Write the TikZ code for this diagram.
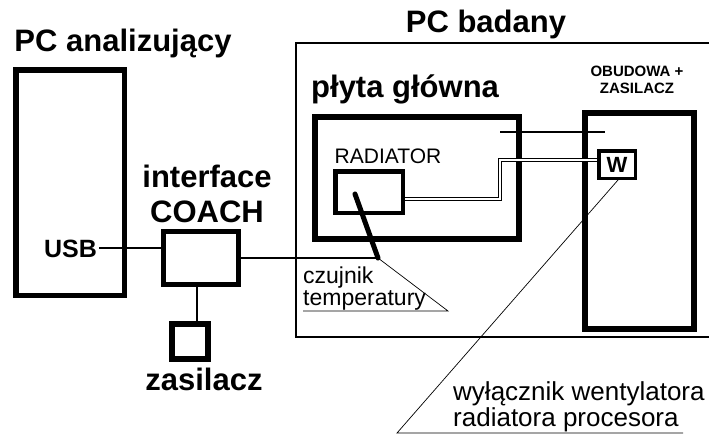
\documentclass[tikz,border=0pt]{standalone}
\usepackage{fontspec}
\setmainfont{Liberation Sans}
\usetikzlibrary{calc}

\begin{document}
\begin{tikzpicture}[x=1pt, y=-1pt,
    thickbox/.style={draw, line width=5.5pt, inner sep=0pt},
    wire/.style={line width=1.8pt},
    leader/.style={line width=0.7pt},
    biglabel/.style={font=\fontsize{31}{34}\selectfont\bfseries, inner sep=0pt, anchor=base},
    smalllabel/.style={inner sep=0pt, anchor=base west}]
  \useasboundingbox (0,0) rectangle (709,437);
  % --- PC analizujacy ---
  \node[biglabel] (pcA) at (123,51) {PC analizujący};
  \node[thickbox, minimum width=108.5, minimum height=225.5] (pc) at (70,182.5) {};
  \node[inner sep=0pt, anchor=base, font=\fontsize{25}{28}\selectfont\bfseries] (usb) at (70.5,257) {USB};
  % --- interface COACH ---
  \node[biglabel] (coachA) at (207,187) {interface};
  \node[biglabel] (coachB) at (207,222) {COACH};
  \node[thickbox, line width=5pt, minimum width=75, minimum height=53] (coach) at (201,258) {};
  \node[thickbox, line width=6pt, minimum width=36, minimum height=35] (zas) at (190,341.5) {};
  \node[biglabel] (zasT) at (204,390) {zasilacz};
  \draw[wire] ([xshift=2pt]usb.east |- 0,248) -- (coach.west |- 0,248);
  \draw[wire] ([xshift=-4pt]coach.south) -- ([xshift=-4pt]coach.south |- zas.north);
  % --- PC badany ---
  \node[biglabel] (pcB) at (486,32) {PC badany};
  \draw[line width=1.3pt] (712,43) -- (296,43) -- (296,337) -- (712,337);
  % plyta glowna
  \node[biglabel, anchor=base west] (mbT) at (311,97) {płyta główna};
  \node[thickbox, line width=6pt, minimum width=204, minimum height=122] (mb) at (417,178) {};
  \node[inner sep=0pt, anchor=base, font=\fontsize{21}{24}\selectfont] (radT) at (388,163) {RADIATOR};
  \node[thickbox, line width=4.5pt, minimum width=67.5, minimum height=41.5] (rad) at (369,192) {};
  % obudowa + zasilacz
  \node[inner sep=0pt, anchor=base, font=\fontsize{15}{17}\selectfont\bfseries] (obT1) at (637,76) {OBUDOWA +};
  \node[inner sep=0pt, anchor=base, font=\fontsize{15}{17}\selectfont\bfseries] (obT2) at (637,93) {ZASILACZ};
  \node[thickbox, line width=6pt, minimum width=109, minimum height=216] (ob) at (639.5,221) {};
  \node[thickbox, line width=3.5pt, minimum width=36.5, minimum height=27.5,
        font=\fontsize{22}{24}\selectfont\bfseries] (w) at (617,164.5) {W};
  % connections inside
  \coordinate (sens) at (378,258);
  \coordinate (bend) at (500,199);
  \draw[line width=5pt, line cap=round] (355,194) -- (sens);
  \draw[wire] (coach.east) -- (coach.east -| sens);
  \draw[line width=0.8pt, double distance=2.6pt] (rad.east |- bend) -- (bend) -- (bend |- 0,160) -- (w.west |- 0,160);
  \draw[wire] (500,132) -- (605,132);
  % --- leaders ---
  \node[smalllabel, font=\fontsize{23}{26}\selectfont] (czA) at (303,283) {czujnik};
  \node[smalllabel, font=\fontsize{23}{26}\selectfont] (czB) at (303,305) {temperatury};
  \draw[leader] (sens) -- (448,311) -- (303,311);
  \node[smalllabel, font=\fontsize{26}{29}\selectfont] (wyA) at (453,400) {wyłącznik wentylatora};
  \node[smalllabel, font=\fontsize{26}{29}\selectfont] (wyB) at (453,426) {radiatora procesora};
  \draw[leader] ([xshift=1pt]w.south) -- (397,433) -- (683,433);
\end{tikzpicture}
\end{document}
